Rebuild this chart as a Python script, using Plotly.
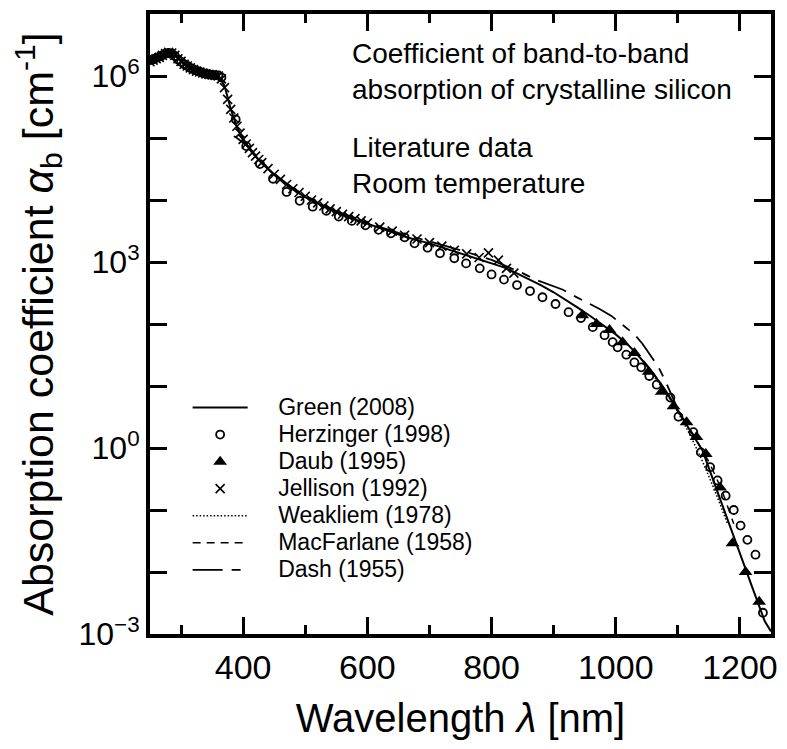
import plotly.graph_objects as go

# ---------------- data ----------------
green_wl = [250, 260, 270, 280, 290, 300, 310, 320, 330, 340, 350, 360, 370, 380, 390,
            400, 410, 420, 430, 440, 450, 460, 470, 480, 490, 500, 520, 540, 560, 580,
            600, 620, 640, 660, 680, 700, 720, 740, 760, 780, 800, 820, 840, 860, 880,
            900, 920, 940, 960, 980, 1000, 1020, 1040, 1060, 1080, 1100, 1120, 1140,
            1160, 1180, 1200, 1220, 1240, 1250]
green_alpha = [1.84e6, 1.97e6, 2.18e6, 2.36e6, 2.24e6, 1.73e6, 1.44e6, 1.28e6, 1.17e6,
               1.09e6, 1.04e6, 1.02e6, 6.97e5, 2.93e5, 1.50e5, 9.52e4, 6.74e4, 5.00e4,
               3.92e4, 3.11e4, 2.55e4, 2.10e4, 1.72e4, 1.48e4, 1.27e4, 1.11e4, 8.8e3,
               7.05e3, 5.78e3, 4.88e3, 4.14e3, 3.52e3, 3.03e3, 2.58e3, 2.25e3, 2.0e3,
               1.72e3, 1.48e3, 1.28e3, 1.11e3, 9.7e2, 8.2e2, 6.6e2, 5.3e2, 4.2e2, 3.25e2,
               2.45e2, 1.8e2, 1.32e2, 9.5e1, 6.8e1, 4.6e1, 2.8e1, 1.6e1, 8.5, 4.0, 1.9,
               0.9, 0.25, 0.069, 0.02, 0.0056, 0.0016, 0.0011]

herz_wl = [250, 255, 260, 265, 270, 275, 280, 285, 290, 295, 300, 305, 310, 315, 320,
           325, 330, 335, 340, 345, 350, 355, 360, 365, 388, 405, 427, 448, 470, 491,
           512, 534, 554, 575, 597, 618, 638, 660, 676, 697, 717, 740, 759, 781, 800,
           820, 841, 862, 882, 903, 924, 944, 963, 982, 995, 1003, 1017, 1030, 1041,
           1054, 1066, 1088, 1101, 1125, 1137, 1152, 1164, 1177, 1190, 1201, 1212,
           1225, 1237]
herz_alpha = [1.8e6, 1.85e6, 1.95e6, 2.05e6, 2.15e6, 2.3e6, 2.35e6, 2.3e6, 2.1e6, 1.85e6,
              1.7e6, 1.55e6, 1.45e6, 1.35e6, 1.28e6, 1.22e6, 1.17e6, 1.12e6, 1.09e6,
              1.06e6, 1.04e6, 1.03e6, 1.02e6, 9.5e5, 2.0e5, 7.4e4, 3.8e4, 2.2e4, 1.35e4,
              9.7e3, 7.8e3, 6.7e3, 5.4e3, 4.6e3, 3.9e3, 3.3e3, 2.9e3, 2.5e3, 2.0e3,
              1.7e3, 1.38e3, 1.15e3, 950, 790, 630, 520, 425, 340, 270, 210, 155, 125,
              89, 66, 51, 42, 32, 24, 20, 14.5, 10.5, 6.5, 3.2, 1.8, 0.85, 0.49, 0.30,
              0.17, 0.10, 0.056, 0.033, 0.019, 0.0022]

daub_wl = [946, 969, 990, 1011, 1030, 1053, 1074, 1093, 1114, 1130, 1145, 1168, 1188,
           1209, 1231]
daub_alpha = [138, 100, 80, 51, 34, 17, 8.1, 4.7, 2.6, 1.5, 0.8, 0.23, 0.029, 0.01,
              0.0033]

jell_wl = [250, 255, 260, 265, 270, 275, 280, 285, 290, 295, 300, 305, 310, 315, 320,
           325, 330, 335, 340, 345, 350, 355, 360, 365, 370, 375, 380, 385, 390, 395,
           400, 405, 410, 415, 420, 425, 430, 440, 450, 460, 470, 480, 490, 500, 510,
           520, 530, 540, 550, 560, 570, 580, 590, 600, 620, 640, 660, 680, 700, 720,
           740, 760, 780, 795, 811, 824, 836]
jell_alpha = [1.7e6, 1.8e6, 1.9e6, 2.0e6, 2.15e6, 2.3e6, 2.4e6, 2.35e6, 2.15e6, 1.9e6,
              1.72e6, 1.55e6, 1.45e6, 1.35e6, 1.27e6, 1.2e6, 1.16e6, 1.12e6, 1.08e6,
              1.06e6, 1.04e6, 1.02e6, 1.0e6, 9.0e5, 6.5e5, 4.2e5, 2.9e5, 2.1e5, 1.55e5,
              1.2e5, 9.5e4, 8.0e4, 6.8e4, 5.8e4, 5.1e4, 4.5e4, 4.0e4, 3.2e4, 2.6e4,
              2.15e4, 1.78e4, 1.52e4, 1.32e4, 1.15e4, 1.0e4, 9.0e3, 8.0e3, 7.2e3,
              6.5e3, 5.9e3, 5.4e3, 5.0e3, 4.6e3, 4.25e3, 3.65e3, 3.15e3, 2.7e3, 2.35e3,
              2.05e3, 1.8e3, 1.55e3, 1.35e3, 1.18e3, 1.4e3, 1.07e3, 790, 660]

weak_wl = [1060, 1080, 1100, 1120, 1140, 1160, 1180]
weak_alpha = [15, 8.0, 3.8, 1.6, 0.6, 0.2, 0.06]

macf_wl = [1030, 1050, 1070, 1090, 1110, 1130, 1150, 1170, 1190]
macf_alpha = [38, 22, 12, 6.0, 2.9, 1.35, 0.6, 0.22, 0.06]

dash_wl = [385, 390, 400, 410, 420, 440, 460, 480, 500, 550, 600, 650, 700, 750, 800,
           850, 871, 914, 931, 974, 993, 1030, 1043, 1069, 1080, 1098]
dash_alpha = [1.07e5, 1.0e5, 8.4e4, 7.0e4, 5.3e4, 3.3e4, 2.2e4, 1.56e4, 1.17e4, 6.6e3,
              4.3e3, 2.95e3, 2.15e3, 1.55e3, 1.08e3, 660, 520, 360, 290, 175, 135, 68,
              48, 20, 12, 4.7]

series_names = ["Green (2008)", "Herzinger (1998)", "Daub (1995)", "Jellison (1992)",
                "Weakliem (1978)", "MacFarlane (1958)", "Dash (1955)"]

x_tickvals = [400, 600, 800, 1000, 1200]
y_tickvals = [1e-3, 1e-2, 1e-1, 1e0, 1e1, 1e2, 1e3, 1e4, 1e5, 1e6, 1e7]
y_ticktext = ["10<sup>\u22123</sup>", "", "", "10<sup>0</sup>", "", "",
              "10<sup>3</sup>", "", "", "10<sup>6</sup>", ""]

FONT = "Liberation Sans, Arial, Helvetica, sans-serif"


def legend_label(name):
    # real legend text; glyphs larger than the row-height font, with a leading gap
    return ('<span style="font-size:23px">\u00a0\u00a0\u00a0\u00a0' + name + '</span>')


fig = go.Figure()

fig.add_trace(go.Scatter(x=green_wl, y=green_alpha, mode="lines",
                         name=legend_label(series_names[0]),
                         line=dict(color="black", width=2)))
fig.add_trace(go.Scatter(x=herz_wl, y=herz_alpha, mode="markers",
                         name=legend_label(series_names[1]),
                         marker=dict(symbol="circle-open", size=8, color="black",
                                     line=dict(width=1.8, color="black"))))
fig.add_trace(go.Scatter(x=daub_wl, y=daub_alpha, mode="markers",
                         name=legend_label(series_names[2]),
                         marker=dict(symbol="triangle-up", size=12, color="black")))
fig.add_trace(go.Scatter(x=jell_wl, y=jell_alpha, mode="markers",
                         name=legend_label(series_names[3]),
                         marker=dict(symbol="x-thin-open", size=9, color="black",
                                     line=dict(width=1.6, color="black"))))
fig.add_trace(go.Scatter(x=weak_wl, y=weak_alpha, mode="lines",
                         name=legend_label(series_names[4]),
                         line=dict(color="black", width=1.5, dash="1.5px,2px")))
fig.add_trace(go.Scatter(x=macf_wl, y=macf_alpha, mode="lines",
                         name=legend_label(series_names[5]),
                         line=dict(color="black", width=1.5, dash="8px,6px")))
fig.add_trace(go.Scatter(x=dash_wl, y=dash_alpha, mode="lines",
                         name=legend_label(series_names[6]),
                         line=dict(color="black", width=1.8, dash="30px,9px,9px,9px")))

axis_common = dict(showline=True, linewidth=4, linecolor="black", mirror="ticks",
                   ticks="inside", ticklen=17, tickwidth=3, tickcolor="black",
                   showgrid=False, zeroline=False)

fig.update_xaxes(range=[250, 1250], tickvals=x_tickvals,
                 tickfont=dict(family=FONT, size=34, color="black"),
                 minor=dict(ticks="inside", ticklen=9, tickwidth=3, tickcolor="black",
                            dtick=100, tick0=300, showgrid=False),
                 title=dict(text="\u00a0\u00a0Wavelength <i>\u03bb</i> [nm]",
                            font=dict(family=FONT, size=40, color="black"), standoff=20),
                 **axis_common)
fig.update_yaxes(type="log", range=[-3, 7], tickvals=y_tickvals, ticktext=y_ticktext,
                 tickfont=dict(family=FONT, size=32, color="black"),
                 title=dict(text="Absorption coefficient <i>\u03b1</i><sub>b</sub> [cm<sup>-1</sup>]",
                            font=dict(family=FONT, size=43, color="black"), standoff=12),
                 **axis_common)

fig.add_annotation(text="Coefficient of band-to-band<br>absorption of crystalline silicon",
                   xref="paper", yref="paper", x=(352 - 150) / 627, y=(634 - 36) / 620,
                   xanchor="left", yanchor="top", align="left", showarrow=False,
                   font=dict(family=FONT, size=28, color="black"))
fig.add_annotation(text="Literature data<br>Room temperature",
                   xref="paper", yref="paper", x=(352 - 150) / 627, y=(634 - 130) / 620,
                   xanchor="left", yanchor="top", align="left", showarrow=False,
                   font=dict(family=FONT, size=28, color="black"))

fig.update_layout(
    width=787, height=749,
    margin=dict(l=150, r=10, t=14, b=115),
    paper_bgcolor="white", plot_bgcolor="white",
    font=dict(family=FONT, color="black"),
    showlegend=True,
    legend=dict(x=(188 - 150) / 627, y=(634 - 389) / 620, xanchor="left", yanchor="top",
                bgcolor="rgba(0,0,0,0)", borderwidth=0, itemwidth=55,
                font=dict(family=FONT, size=18.5, color="black"), tracegroupgap=0),
)

fig.write_html("out.html")
